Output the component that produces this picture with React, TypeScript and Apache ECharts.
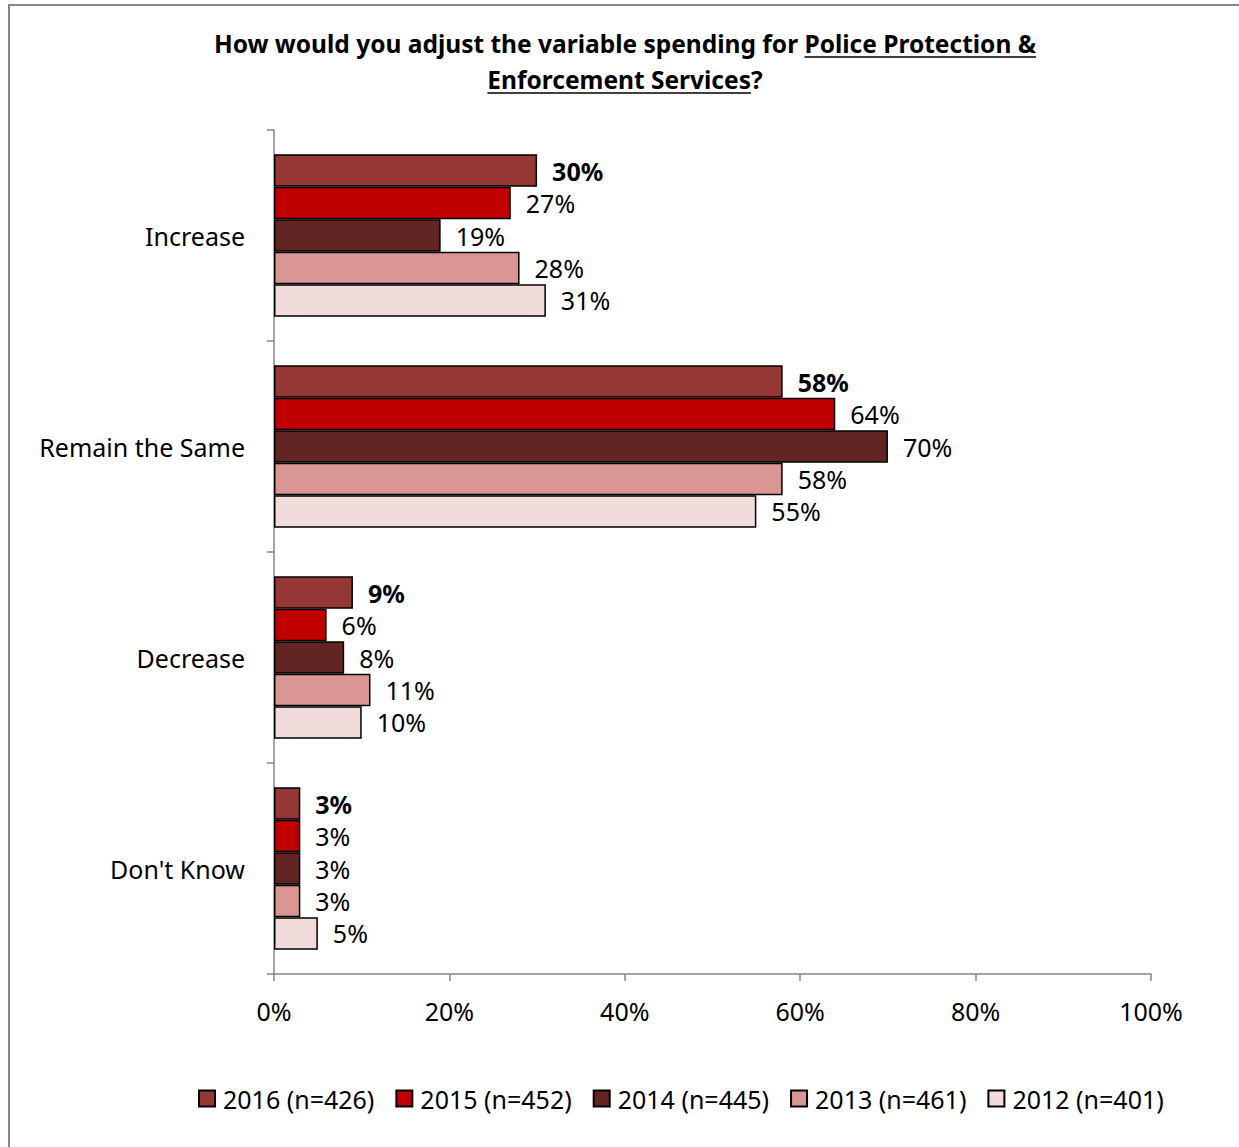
import React, { useEffect, useRef } from "react";
import * as echarts from "echarts";

const categories = ["Increase", "Remain the Same", "Decrease", "Don't Know"];
const seriesNames = ["2016 (n=426)", "2015 (n=452)", "2014 (n=445)", "2013 (n=461)", "2012 (n=401)"];
const colors = ["#953735", "#C00000", "#632523", "#D99694", "#F2DCDB"];
const v2016 = [30, 58, 9, 3];
const v2015 = [27, 64, 6, 3];
const v2014 = [19, 70, 8, 3];
const v2013 = [28, 58, 11, 3];
const v2012 = [31, 55, 10, 5];
const seriesValues = [v2016, v2015, v2014, v2013, v2012];
const xTicks = [0, 20, 40, 60, 80, 100];

const titlePre = "How would you adjust the variable spending for ";
const titleU1 = "Police Protection &";
const titleU2 = "Enforcement Services";
const titlePost = "?";

const FONT = "'Noto Sans', 'Open Sans', sans-serif";

export default function App() {
  const ref = useRef<HTMLDivElement>(null);
  useEffect(() => {
    document.body.style.margin = "0";
    const chart = echarts.init(ref.current!, null, { renderer: "svg" });
    const ctx = document.createElement("canvas").getContext("2d")!;
    const tSize = 24.5;
    ctx.font = `bold ${tSize}px 'Noto Sans'`;
    const w = (s: string) => ctx.measureText(s).width;
    const cx = 625;
    const y1 = 43, y2 = 79;
    const l1w = w(titlePre) + w(titleU1);
    const l1x = cx - l1w / 2;
    const u1x = l1x + w(titlePre);
    const l2w = w(titleU2) + w(titlePost);
    const l2x = cx - l2w / 2;
    const tStyle = { font: `bold ${tSize}px ${FONT}`, fill: "#000", textVerticalAlign: "middle" };
    const graphic: any[] = [
      { type: "rect", shape: { x: 9, y: 5, width: 1400, height: 1400 }, style: { fill: "none", stroke: "#868686", lineWidth: 2 }, silent: true },
      { type: "text", x: l1x, y: y1, style: { ...tStyle, text: titlePre + titleU1 } },
      { type: "line", shape: { x1: u1x, y1: y1 + 14, x2: u1x + w(titleU1), y2: y1 + 14 }, style: { stroke: "#000", lineWidth: 1.5 } },
      { type: "text", x: l2x, y: y2, style: { ...tStyle, text: titleU2 + titlePost } },
      { type: "line", shape: { x1: l2x, y1: y2 + 14, x2: l2x + w(titleU2), y2: y2 + 14 }, style: { stroke: "#000", lineWidth: 1.5 } },
    ];
    chart.setOption({
      animation: false,
      textStyle: { fontFamily: FONT },
      graphic,
      grid: { left: 274, right: 88, top: 130, bottom: 173, containLabel: false },
      legend: {
        bottom: 31,
        left: 193,
        icon: "rect",
        itemWidth: 16,
        itemHeight: 16,
        itemGap: 21,
        textStyle: { fontSize: 25, color: "#000", fontFamily: FONT, padding: [0, 0, 0, 3] },
        data: seriesNames,
      },
      xAxis: {
        type: "value",
        min: 0,
        max: 100,
        interval: 20,
        axisLine: { show: true, lineStyle: { color: "#868686", width: 1.5 } },
        axisTick: { show: true, length: 7, lineStyle: { color: "#868686", width: 1.5 } },
        splitLine: { show: false },
        axisLabel: { fontSize: 25, color: "#000", margin: 24, formatter: (v: number) => (xTicks.includes(v) ? v + "%" : "") },
      },
      yAxis: {
        type: "category",
        data: categories,
        inverse: true,
        axisLine: { show: true, lineStyle: { color: "#868686", width: 1.5 } },
        axisTick: { show: true, length: 7, lineStyle: { color: "#868686", width: 1.5 } },
        axisLabel: { fontSize: 25, color: "#000", margin: 29 },
      },
      series: seriesNames.map((name, i) => ({
        type: "bar",
        name,
        data: seriesValues[i],
        barGap: "0%",
        barCategoryGap: "23%",
        itemStyle: { color: colors[i], borderColor: "#000", borderWidth: 1.5 },
        label: {
          show: true,
          position: "right",
          distance: 15,
          fontSize: 25,
          color: "#000",
          fontWeight: i === 0 ? "bold" : "normal",
          formatter: (p: any) => p.value + "%",
        },
      })),
    });
    return () => chart.dispose();
  }, []);
  return <div ref={ref} style={{ width: 1239, height: 1147 }} />;
}
